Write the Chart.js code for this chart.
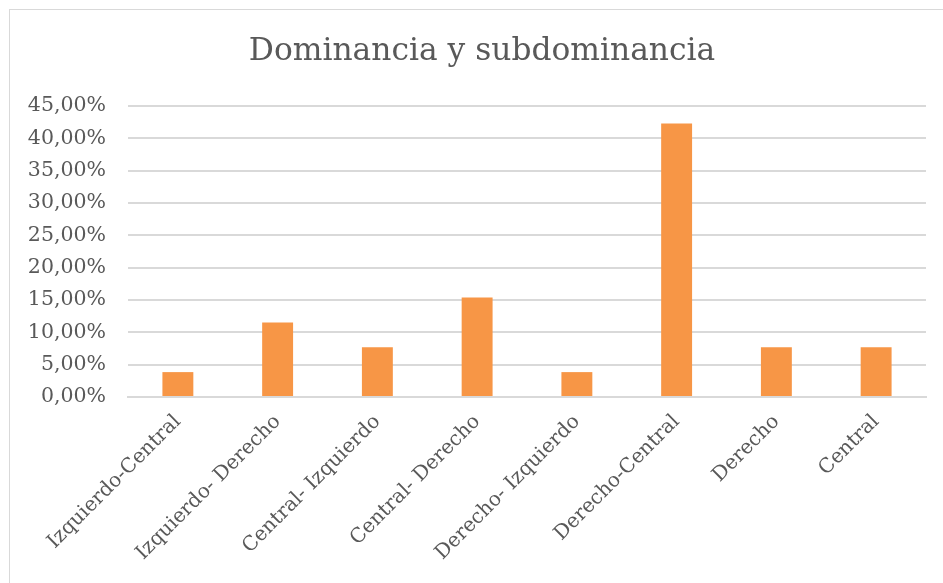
<!DOCTYPE html>
<html>
<head>
<meta charset="utf-8">
<script src="https://cdn.jsdelivr.net/npm/chart.js@4"></script>
<style>
  html, body { margin: 0; padding: 0; background: #fff; overflow: hidden; }
  #box { position: absolute; left: 9px; top: 9px; width: 950px; height: 600px; border: 1px solid #d9d9d9; }
  #chart { display: block; }
</style>
</head>
<body>
<div id="box"><canvas id="chart" width="944" height="600"></canvas></div>
<script>
var categories = [
  'Izquierdo-Central',
  'Izquierdo- Derecho',
  'Central- Izquierdo',
  'Central- Derecho',
  'Derecho- Izquierdo',
  'Derecho-Central',
  'Derecho',
  'Central'
];
var percentages = [0.0385, 0.1154, 0.0769, 0.1538, 0.0385, 0.4231, 0.0769, 0.0769];
var yTicks = [0, 0.05, 0.10, 0.15, 0.20, 0.25, 0.30, 0.35, 0.40, 0.45];

var textColor = '#595959';
var gridColor = '#d9d9d9';
var fontFamily = '"DejaVu Serif", serif';

function pct(v) {
  return (v * 100).toFixed(2).replace('.', ',') + '%';
}

var ctx = document.getElementById('chart');
var chart = new Chart(ctx, {
  type: 'bar',
  data: {
    labels: categories,
    datasets: [{
      data: percentages,
      backgroundColor: '#f79646',
      barPercentage: 0.62,
      categoryPercentage: 0.5
    }]
  },
  options: {
    responsive: false,
    animation: false,
    layout: { padding: 0 },
    plugins: {
      legend: { display: false },
      tooltip: { enabled: false },
      title: {
        display: true,
        text: 'Dominancia y subdominancia',
        color: textColor,
        font: { family: fontFamily, size: 31.3, weight: 'normal' },
        padding: { top: 23.5, bottom: 35 }
      }
    },
    scales: {
      x: {
        grid: { display: false, drawTicks: false },
        border: { display: true, color: gridColor, width: 2 },
        ticks: {
          color: textColor,
          font: { family: fontFamily, size: 20 },
          minRotation: 45,
          maxRotation: 45,
          padding: 13,
          autoSkip: false
        },
        afterFit: function (scale) { scale.height = 213; }
      },
      y: {
        min: 0,
        max: 0.45,
        afterBuildTicks: function (scale) {
          scale.ticks = yTicks.map(function (v) { return { value: v }; });
        },
        grid: { color: gridColor, lineWidth: 2, drawTicks: false },
        border: { display: false },
        ticks: {
          color: textColor,
          font: { family: fontFamily, size: 20.5 },
          padding: 22,
          callback: function (v) { return pct(v); }
        },
        afterFit: function (scale) { scale.width = 118; }
      },
      // empty right-hand spacer so the title centres on the whole frame
      spacer: {
        type: 'linear',
        position: 'right',
        grid: { display: false, drawTicks: false },
        border: { display: false },
        ticks: { display: false },
        afterFit: function (scale) { scale.width = 28; }
      }
    }
  }
});
</script>
</body>
</html>
